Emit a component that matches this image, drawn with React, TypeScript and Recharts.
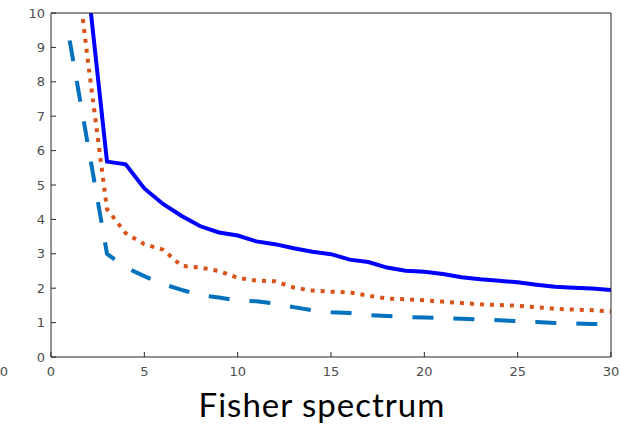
import React from 'react';
import { LineChart, Line, XAxis, YAxis } from 'recharts';

// Eigenvalue index (1..30)
const index = [
  1, 2, 3, 4, 5, 6, 7, 8, 9, 10, 11, 12, 13, 14, 15,
  16, 17, 18, 19, 20, 21, 22, 23, 24, 25, 26, 27, 28, 29, 30,
];

// Solid blue series
const solidSeries = [
  15.8, 10.7, 5.68, 5.6, 4.9, 4.45, 4.1, 3.8, 3.62, 3.53, 3.36, 3.28, 3.16, 3.06, 2.99,
  2.83, 2.76, 2.6, 2.51, 2.48, 2.41, 2.32, 2.26, 2.22, 2.17, 2.1, 2.04, 2.01, 1.99, 1.95,
];

// Dotted orange series
const dottedSeries = [
  13.0, 8.5, 4.3, 3.6, 3.28, 3.12, 2.65, 2.6, 2.5, 2.3, 2.22, 2.2, 2.02, 1.93, 1.9,
  1.88, 1.78, 1.7, 1.68, 1.65, 1.61, 1.57, 1.53, 1.51, 1.49, 1.45, 1.4, 1.38, 1.36, 1.32,
];

// Dashed light-blue series
const dashedSeries = [
  9.2, 6.1, 3.0, 2.6, 2.35, 2.12, 1.95, 1.8, 1.73, 1.64, 1.62, 1.55, 1.45, 1.36, 1.3,
  1.28, 1.22, 1.19, 1.16, 1.15, 1.13, 1.11, 1.09, 1.07, 1.04, 1.02, 0.99, 0.98, 0.96, 0.95,
];

const xTicks = [0, 5, 10, 15, 20, 25, 30];
const yTicks = [0, 1, 2, 3, 4, 5, 6, 7, 8, 9, 10];
const title = 'Fisher spectrum';
const strayLabel = '0';

const data = index.map((x, i) => ({
  x,
  solid: solidSeries[i],
  dotted: dottedSeries[i],
  dashed: dashedSeries[i],
}));

const axisColor = '#262626';
const labelStyle = { fontFamily: '"DejaVu Sans", sans-serif', fontSize: 13, fill: '#4d4d4d' };

export default function App() {
  return (
    <div
      style={{
        position: 'absolute',
        left: 0,
        top: 0,
        width: 620,
        height: 425,
        background: '#ffffff',
        overflow: 'hidden',
      }}
    >
      <LineChart
        width={620}
        height={425}
        data={data}
        margin={{ top: 12, right: 8, bottom: 43, left: 0 }}
      >
        <XAxis
          xAxisId="bottom"
          dataKey="x"
          type="number"
          domain={[0, 30]}
          ticks={xTicks}
          allowDataOverflow
          height={25}
          tickSize={-5}
          tickMargin={15}
          stroke={axisColor}
          tick={labelStyle}
          tickLine={{ stroke: axisColor }}
          interval={0}
        />
        <XAxis
          xAxisId="top"
          orientation="top"
          dataKey="x"
          type="number"
          domain={[0, 30]}
          ticks={xTicks}
          allowDataOverflow
          height={1}
          tickSize={-5}
          tick={false}
          stroke={axisColor}
          tickLine={{ stroke: axisColor }}
          interval={0}
        />
        <YAxis
          yAxisId="left"
          type="number"
          domain={[0, 10]}
          ticks={yTicks}
          allowDataOverflow
          width={51}
          tickSize={-5}
          tickMargin={11}
          stroke={axisColor}
          tick={labelStyle}
          tickLine={{ stroke: axisColor }}
          interval={0}
        />
        <YAxis
          yAxisId="right"
          orientation="right"
          type="number"
          domain={[0, 10]}
          ticks={yTicks}
          allowDataOverflow
          width={1}
          tickSize={-5}
          tick={false}
          stroke={axisColor}
          tickLine={{ stroke: axisColor }}
          interval={0}
        />
        <Line
          xAxisId="bottom"
          yAxisId="left"
          dataKey="solid"
          type="linear"
          stroke="#0000ff"
          strokeWidth={4}
          dot={false}
          isAnimationActive={false}
        />
        <Line
          xAxisId="bottom"
          yAxisId="left"
          dataKey="dotted"
          type="linear"
          stroke="#d95319"
          strokeWidth={4}
          strokeDasharray="4 6"
          dot={false}
          isAnimationActive={false}
        />
        {/* same domains as the bottom/left pair, so this also drives the box axes */}
        <Line
          xAxisId="top"
          yAxisId="right"
          dataKey="dashed"
          type="linear"
          stroke="#0072bd"
          strokeWidth={4}
          strokeDasharray="21 20"
          dot={false}
          isAnimationActive={false}
        />
      </LineChart>
      <svg
        width={620}
        height={425}
        style={{ position: 'absolute', left: 0, top: 0, pointerEvents: 'none' }}
      >
        <text x={4} y={376} textAnchor="middle" style={labelStyle}>
          {strayLabel}
        </text>
        <text
          x={322}
          y={417}
          textAnchor="middle"
          style={{ fontFamily: 'Lato, sans-serif', fontSize: 33, fill: '#000000', letterSpacing: 1 }}
        >
          {title}
        </text>
      </svg>
    </div>
  );
}
